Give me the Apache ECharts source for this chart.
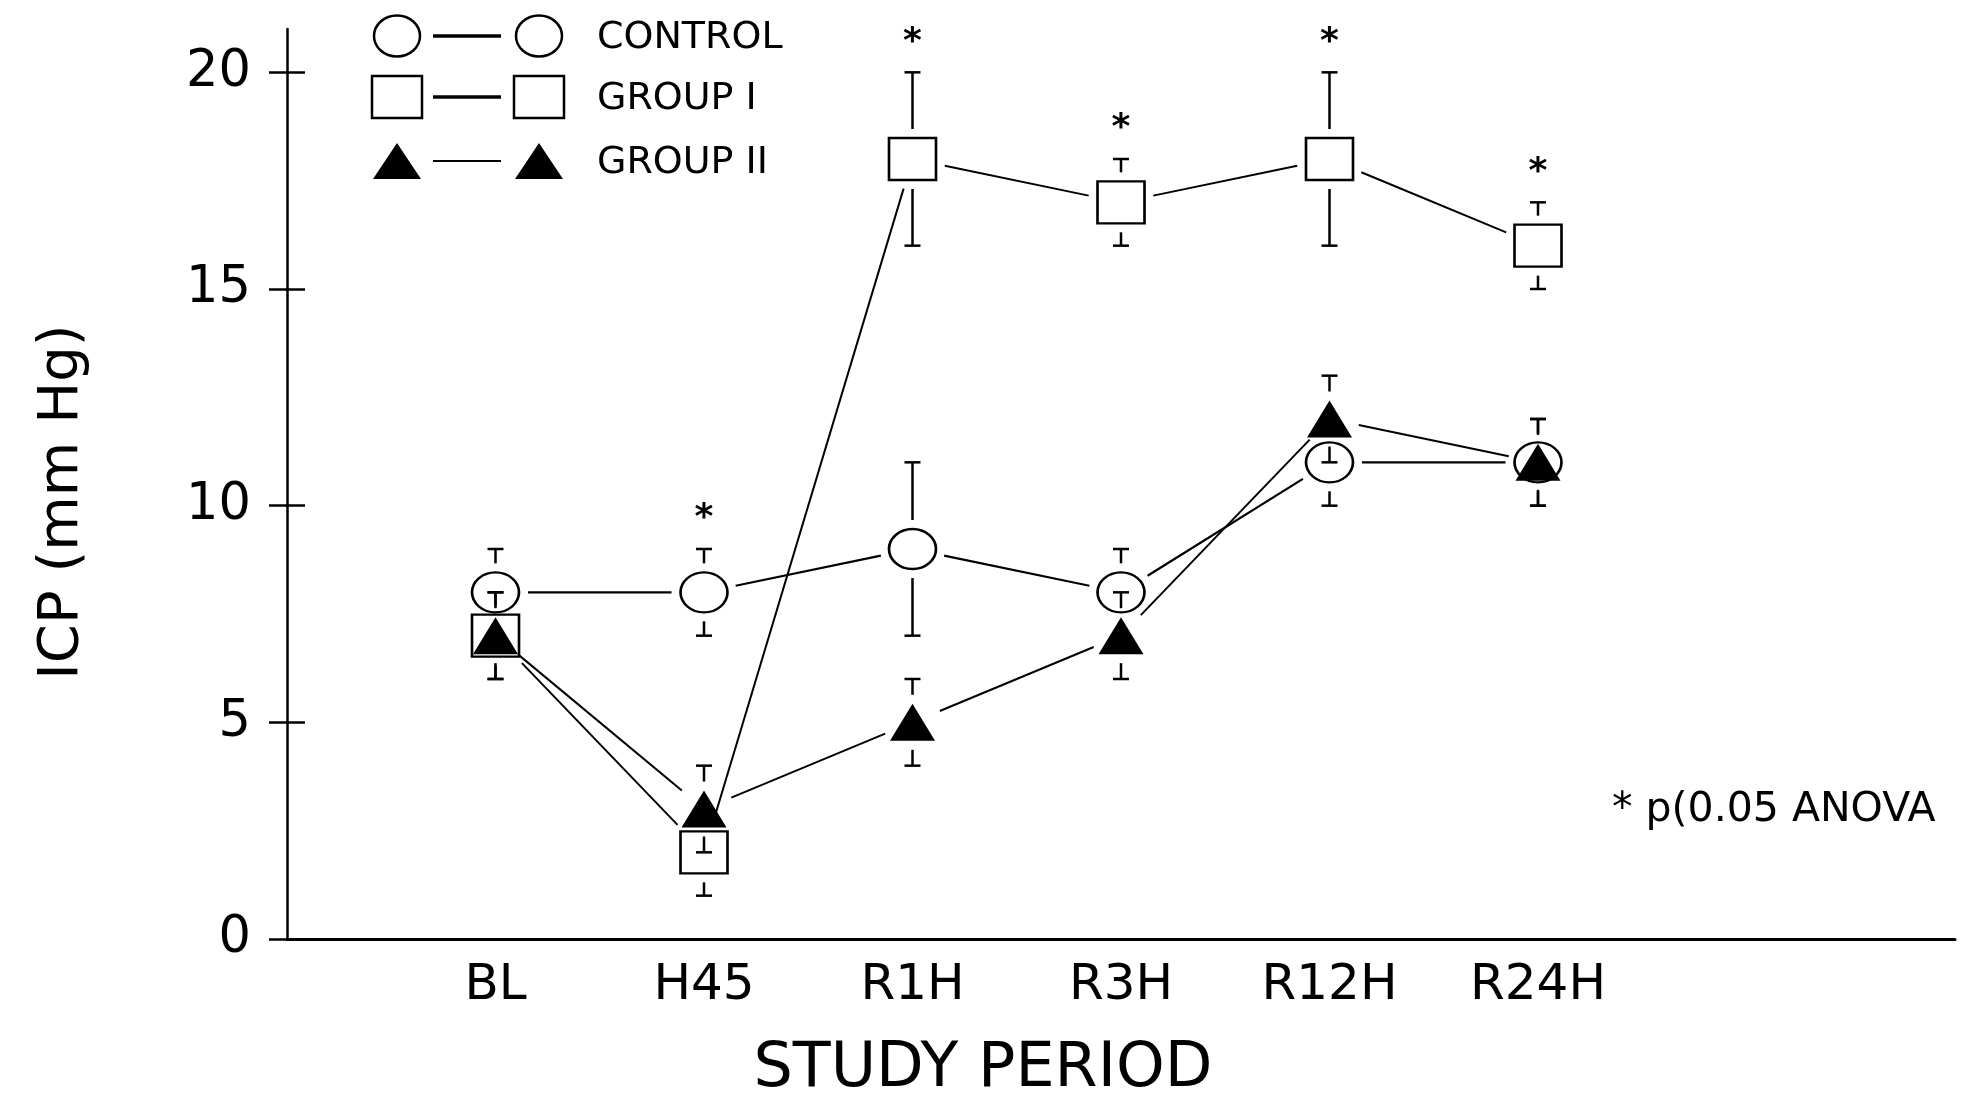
<!DOCTYPE html>
<html>
<head>
<meta charset="utf-8">
<title>ICP by study period</title>
<script src="https://cdn.jsdelivr.net/npm/echarts@6/dist/echarts.min.js"></script>
<style>
  html, body { margin: 0; padding: 0; background: #fff; }
  #chart { width: 1967px; height: 1093px; }
</style>
</head>
<body>
<div id="chart"></div>
<script>
// Study periods along the x axis
const periods = ['BL', 'H45', 'R1H', 'R3H', 'R12H', 'R24H'];

// Mean ICP (mm Hg) and SD for each group
const controlMean = [8, 8, 9, 8, 11, 11];
const controlSD   = [1, 1, 2, 1, 1, 1];
const group1Mean  = [7, 2, 18, 17, 18, 16];
const group1SD    = [1, 1, 2, 1, 2, 1];
const group2Mean  = [7, 3, 5, 7, 12, 11];
const group2SD    = [1, 1, 1, 1, 1, 1];

// p<0.05 (ANOVA) flags, drawn as an asterisk above the flagged group's bar
const controlSig = [false, true, false, false, false, false];
const group1Sig  = [false, false, true, true, true, true];
const group2Sig  = [false, false, false, false, false, false];

// Axis ticks
const yTicks = [0, 5, 10, 15, 20];
const periodPositions = periods.map((p, i) => i + 1);

const FONT = 'DejaVu Sans';
const INK = '#000';

// Marker shapes (half extents in px) used to keep lines and bars clear of the markers
const SHAPES = {
  circle:   { kind: 'ellipse', hw: 23.5, hh: 20 },
  rect:     { kind: 'rect',    hw: 23.5, hh: 21 },
  triangle: { kind: 'ellipse', hw: 21,   hh: 18.5 }
};
const GAP = 9;

function edgeDistance(shape, ux, uy) {
  if (shape.kind === 'rect') {
    const ax = Math.abs(ux) < 1e-9 ? Infinity : shape.hw / Math.abs(ux);
    const ay = Math.abs(uy) < 1e-9 ? Infinity : shape.hh / Math.abs(uy);
    return Math.min(ax, ay);
  }
  return 1 / Math.sqrt((ux / shape.hw) ** 2 + (uy / shape.hh) ** 2);
}

function points(mean) {
  return mean.map((v, i) => [periodPositions[i], v]);
}

// Connecting segments between consecutive periods, stopped short of the markers
function connectorSeries(mean, shape, width) {
  const n = mean.length;
  return {
    type: 'custom',
    silent: true,
    z: 2,
    data: points(mean),
    encode: { x: 0, y: 1 },
    renderItem(params, api) {
      const i = params.dataIndexInside;
      if (i >= n - 1) return;
      const p0 = api.coord([api.value(0), api.value(1)]);
      const p1 = api.coord([api.value(0, i + 1), api.value(1, i + 1)]);
      const dx = p1[0] - p0[0], dy = p1[1] - p0[1];
      const len = Math.hypot(dx, dy);
      const ux = dx / len, uy = dy / len;
      const r = edgeDistance(shape, ux, uy) + GAP;
      return {
        type: 'line',
        shape: { x1: p0[0] + ux * r, y1: p0[1] + uy * r, x2: p1[0] - ux * r, y2: p1[1] - uy * r },
        style: { stroke: INK, lineWidth: width }
      };
    }
  };
}

// Mean ± SD bars with end caps, plus the significance asterisk
function errorSeries(mean, sd, sig, shape) {
  return {
    type: 'custom',
    silent: true,
    z: 10,
    data: mean.map((v, i) => [periodPositions[i], v, sd[i], sig[i] ? 1 : 0]),
    encode: { x: 0, y: 1 },
    renderItem(params, api) {
      const x = api.value(0), m = api.value(1), e = api.value(2), s = api.value(3);
      const c = api.coord([x, m]);
      const hi = api.coord([x, m + e]);
      const lo = api.coord([x, m - e]);
      const start = shape.hh + GAP;
      const cap = 8;
      const style = { stroke: INK, lineWidth: 2.5 };
      const children = [];
      [[hi, -1], [lo, 1]].forEach(([p, dir]) => {
        const y0 = c[1] + dir * start;
        if ((p[1] - y0) * dir > 0) {
          children.push({ type: 'line', shape: { x1: c[0], y1: y0, x2: c[0], y2: p[1] }, style });
        }
        children.push({ type: 'line', shape: { x1: c[0] - cap, y1: p[1], x2: c[0] + cap, y2: p[1] }, style });
      });
      if (s) {
        children.push({
          type: 'text',
          style: { text: '*', x: hi[0], y: hi[1] - 30, align: 'center', verticalAlign: 'middle',
                   fontFamily: FONT, fontWeight: 'bold', fontSize: 36, fill: INK }
        });
      }
      return { type: 'group', children };
    }
  };
}

const ellipsePath = 'path://M0,1 A1,1 0 1,1 2,1 A1,1 0 1,1 0,1 Z';

function markerSeries(name, mean, symbol, size, filled, z) {
  return {
    type: 'scatter',
    name,
    silent: true,
    z,
    data: points(mean),
    symbol,
    symbolSize: size,
    itemStyle: filled
      ? { color: INK, opacity: 1, borderWidth: 0 }
      : { color: '#fff', opacity: 1, borderColor: INK, borderWidth: 2.5 }
  };
}

// Legend: marker — marker, then the group name
const legendRows = [
  { label: 'CONTROL',  shape: 'circle',   cy: 36,  lineWidth: 3.5 },
  { label: 'GROUP I',  shape: 'rect',     cy: 97,  lineWidth: 3.5 },
  { label: 'GROUP II', shape: 'triangle', cy: 161, lineWidth: 2 }
];

function legendMarker(shape, cx, cy) {
  if (shape === 'circle') {
    return { type: 'ellipse', shape: { cx, cy, rx: 23, ry: 20.5 },
             style: { fill: '#fff', stroke: INK, lineWidth: 2.5 } };
  }
  if (shape === 'rect') {
    return { type: 'rect', shape: { x: cx - 25, y: cy - 21, width: 50, height: 42 },
             style: { fill: '#fff', stroke: INK, lineWidth: 2.5 } };
  }
  return { type: 'polygon', shape: { points: [[cx, cy - 18], [cx + 24, cy + 18], [cx - 24, cy + 18]] },
           style: { fill: INK } };
}

const legendGraphics = [];
legendRows.forEach(row => {
  legendGraphics.push(legendMarker(row.shape, 397, row.cy));
  legendGraphics.push({ type: 'line', shape: { x1: 433, y1: row.cy, x2: 501, y2: row.cy },
                        style: { stroke: INK, lineWidth: row.lineWidth } });
  legendGraphics.push(legendMarker(row.shape, 539, row.cy));
  legendGraphics.push({ type: 'text', x: 597, y: row.cy + 2,
                        style: { text: row.label, fontFamily: FONT, fontSize: 38, fill: INK,
                                 verticalAlign: 'middle' } });
});

const chart = echarts.init(document.getElementById('chart'), null, { renderer: 'canvas' });

const tickStyle = { color: INK, width: 2.5 };

chart.setOption({
  animation: false,
  backgroundColor: '#fff',
  grid: { left: 287, right: 12, top: 29, bottom: 154, outerBoundsMode: 'none', containLabel: false },
  xAxis: {
    type: 'value',
    min: 0,
    max: 8,
    interval: 1,
    axisLine: { show: true, onZero: false, lineStyle: { color: INK, width: 3 } },
    axisTick: { show: false },
    splitLine: { show: false },
    axisLabel: {
      customValues: periodPositions,
      formatter: v => periods[Math.round(v) - 1] || '',
      fontFamily: FONT, fontSize: 50, color: INK, margin: 22
    },
    name: 'STUDY PERIOD',
    nameLocation: 'middle',
    nameGap: 100,
    nameTextStyle: { fontFamily: FONT, fontSize: 62, color: INK, padding: [0, 276, 0, 0] }
  },
  yAxis: [
    {
      type: 'value',
      min: 0,
      max: 21,
      position: 'left',
      axisLine: { show: true, onZero: false, lineStyle: { color: INK, width: 2.5 } },
      axisTick: { show: true, customValues: yTicks, length: 18, lineStyle: tickStyle },
      axisLabel: { customValues: yTicks, fontFamily: FONT, fontSize: 51, color: INK, margin: 36 },
      splitLine: { show: false },
      name: 'ICP (mm Hg)',
      nameLocation: 'middle',
      nameGap: 197,
      nameTextStyle: { fontFamily: FONT, fontSize: 56, color: INK, padding: [0, 36, 0, 0] }
    },
    {
      // inner half of the crossing ticks
      type: 'value',
      min: 0,
      max: 21,
      position: 'left',
      offset: 0,
      axisLine: { show: false },
      axisTick: { show: true, inside: true, customValues: yTicks, length: 18, lineStyle: tickStyle },
      axisLabel: { show: false },
      splitLine: { show: false }
    }
  ],
  graphic: [
    ...legendGraphics,
    { type: 'text', x: 1612, y: 810,
      style: { text: '* p(0.05 ANOVA', fontFamily: FONT, fontSize: 41, fill: INK, verticalAlign: 'middle' } }
  ],
  series: [
    connectorSeries(controlMean, SHAPES.circle, 2.2),
    connectorSeries(group1Mean, SHAPES.rect, 2),
    connectorSeries(group2Mean, SHAPES.triangle, 2),
    markerSeries('CONTROL', controlMean, ellipsePath, [47, 40], false, 3),
    markerSeries('GROUP I', group1Mean, 'rect', [47, 42], false, 4),
    markerSeries('GROUP II', group2Mean, 'triangle', [45, 37], true, 5),
    errorSeries(controlMean, controlSD, controlSig, SHAPES.circle),
    errorSeries(group1Mean, group1SD, group1Sig, SHAPES.rect),
    errorSeries(group2Mean, group2SD, group2Sig, SHAPES.triangle)
  ]
});
</script>
</body>
</html>
